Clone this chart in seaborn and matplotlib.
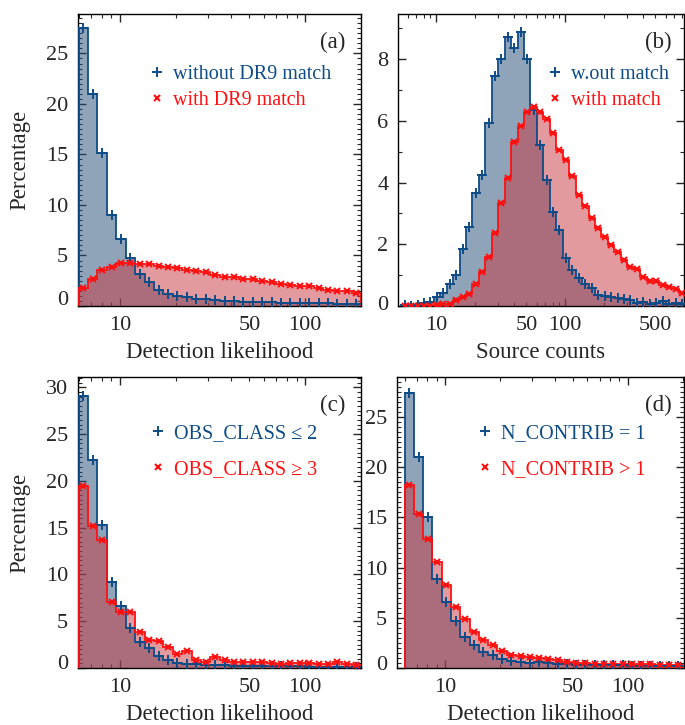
import numpy as np
import pandas as pd
import matplotlib
matplotlib.use("Agg")
import matplotlib.pyplot as plt
import matplotlib.transforms as mtransforms
import seaborn as sns
from matplotlib.lines import Line2D
from matplotlib.ticker import FixedLocator, MultipleLocator, FuncFormatter

# ---------------- data ----------------
# Detection-likelihood bins (log-spaced, 6 -> 200, 30 bins) used in panels a, c, d
DL_LOG_EDGES = np.linspace(np.log10(6), np.log10(200), 31)
# Source-count bins (0.05 dex) used in panel b
SC_LOG_EDGES = np.round(np.arange(0.73, 2.931, 0.05), 3)

a_without = [27.5, 21.0, 15.1, 9.0, 6.6, 4.75, 3.15, 2.4, 1.6, 1.15, 1.0, 0.9, 0.65, 0.7, 0.6,
             0.5, 0.45, 0.4, 0.4, 0.35, 0.35, 0.3, 0.3, 0.3, 0.25, 0.25, 0.25, 0.2, 0.2, 0.2]
a_with = [1.75, 2.65, 3.6, 3.9, 4.25, 4.3, 4.2, 4.2, 4.0, 3.9, 3.75, 3.6, 3.5, 3.35, 3.1,
          2.9, 2.9, 2.65, 2.65, 2.5, 2.4, 2.15, 2.05, 2.0, 1.95, 1.75, 1.6, 1.5, 1.45, 1.3]

b_without = [0.03, 0.01, 0.02, 0.11, 0.14, 0.30, 0.43, 0.71, 1.0, 1.86, 2.57, 3.65, 4.25, 5.92,
             7.46, 8.0, 8.73, 8.38, 8.89, 8.0, 6.35, 5.22, 4.08, 3.06, 2.46, 1.55, 1.17, 0.90,
             0.71, 0.57, 0.36, 0.32, 0.30, 0.25, 0.22, 0.19, 0.11, 0.14, 0.08, 0.11, 0.17, 0.08,
             0.11, 0.08]
b_with = [0.0, 0.0, 0.0, 0.0, 0.0, 0.02, 0.05, 0.08, 0.19, 0.28, 0.39, 0.71, 1.11, 1.58, 2.38,
          3.35, 4.14, 5.33, 5.83, 6.30, 6.46, 6.30, 6.05, 5.62, 5.06, 4.73, 4.21, 3.60, 3.24,
          2.84, 2.52, 2.25, 1.98, 1.76, 1.49, 1.27, 1.19, 0.95, 0.82, 0.82, 0.68, 0.63, 0.54,
          0.43]

c_low = [29.1, 22.2, 15.3, 9.2, 6.66, 4.27, 2.74, 2.14, 1.25, 0.89, 0.53, 0.46, 0.43, 0.36, 0.28,
         0.28, 0.25, 0.25, 0.22, 0.22, 0.2, 0.2, 0.18, 0.18, 0.15, 0.15, 0.15, 0.12, 0.12, 0.1]
c_high = [19.4, 15.2, 13.7, 7.05, 5.98, 5.98, 3.81, 2.96, 2.85, 2.24, 1.53, 1.78, 0.82, 0.68, 1.18,
          0.82, 0.68, 0.68, 0.6, 0.68, 0.53, 0.39, 0.53, 0.53, 0.53, 0.46, 0.46, 0.68, 0.46, 0.28]

d_one = [27.4, 21.0, 15.0, 8.89, 6.57, 4.64, 3.08, 2.32, 1.59, 1.26, 0.86, 0.73, 0.6, 0.53, 0.6,
         0.46, 0.43, 0.36, 0.33, 0.3, 0.3, 0.28, 0.26, 0.25, 0.23, 0.22, 0.21, 0.2, 0.2, 0.2]
d_many = [18.2, 15.3, 12.9, 10.6, 8.29, 6.07, 4.84, 3.58, 2.75, 2.32, 1.66, 1.33, 1.19, 1.06, 1.0,
          0.93, 0.76, 0.6, 0.53, 0.46, 0.43, 0.43, 0.43, 0.4, 0.43, 0.4, 0.36, 0.33, 0.33, 0.33]

labels_a = ["without DR9 match", "with DR9 match"]
labels_b = ["w.out match", "with match"]
labels_c = ["OBS_CLASS ≤ 2", "OBS_CLASS ≥ 3"]
labels_d = ["N_CONTRIB = 1", "N_CONTRIB > 1"]
xlab_dl = "Detection likelihood"
xlab_sc = "Source counts"
ylab = "Percentage"

# ---------------- style ----------------
sns.set_theme(style="ticks")
FS_TICK = 16
FS_LAB = 16.5
FS_LEG = 14.5
plt.rcParams.update({
    "font.family": ["Liberation Serif", "DejaVu Serif"],
    "font.size": FS_TICK,
    "axes.labelsize": FS_LAB,
    "xtick.labelsize": FS_TICK,
    "ytick.labelsize": FS_TICK,
    "xtick.direction": "in",
    "ytick.direction": "in",
    "xtick.top": True,
    "ytick.right": True,
    "xtick.major.size": 6,
    "ytick.major.size": 6,
    "xtick.minor.size": 3,
    "ytick.minor.size": 3,
    "xtick.major.width": 1.0,
    "ytick.major.width": 1.0,
    "xtick.minor.width": 0.8,
    "ytick.minor.width": 0.8,
    "axes.linewidth": 1.0,
    "axes.edgecolor": "black",
})

BLUE = "#0e4c88"
BLUE_FILL = "#28507a"
RED = "#ff1010"
RED_FILL = "#c83741"

W, H = 685, 725
fig = plt.figure(figsize=(W / 100, H / 100), dpi=100)


def ax_at(l, r, t, b):
    return fig.add_axes([l / W, 1 - b / H, (r - l) / W, (b - t) / H])


def draw(ax, log_edges, v1, v2):
    centers = 10 ** (0.5 * (log_edges[:-1] + log_edges[1:]))
    for vals, line_c, fill_c, alpha in ((v1, BLUE, BLUE_FILL, 0.52), (v2, RED, RED_FILL, 0.5)):
        df = pd.DataFrame({"x": centers, "w": vals})
        sns.histplot(data=df, x="x", weights="w", bins=list(log_edges), log_scale=True,
                     element="step", fill=True, color=fill_c, alpha=alpha,
                     linewidth=0, ax=ax, stat="count")
        ax.stairs(vals, 10 ** log_edges, color=line_c, linewidth=1.3, zorder=3)
    ax.plot(centers, v1, ls="none", marker="+", ms=7, mew=1.4, color=BLUE, zorder=5)
    ax.plot(centers, v2, ls="none", marker="x", ms=5, mew=1.5, color=RED, zorder=5)


def style_x(ax, xlim, labels_at):
    ax.set_xlim(*xlim)
    ax.xaxis.set_major_locator(FixedLocator([1, 10, 100, 1000]))
    minors = [m * 10 ** e for e in range(0, 3) for m in range(2, 10)]
    ax.xaxis.set_minor_locator(FixedLocator(minors))
    fmt = FuncFormatter(lambda v, p: (f"{v:g}" if any(abs(v - L) < 1e-6 for L in labels_at) else ""))
    ax.xaxis.set_major_formatter(fmt)
    ax.xaxis.set_minor_formatter(fmt)
    ax.tick_params(axis="x", which="both", pad=7.5)


def style_y(ax, ylim, major, minor):
    ax.set_ylim(*ylim)
    ax.yaxis.set_major_locator(MultipleLocator(major))
    ax.yaxis.set_minor_locator(MultipleLocator(minor))
    ax.set_ylabel("")
    ax.tick_params(axis="y", which="both", pad=7)


def legend(ax, labels, x0, y0, spacing):
    hs = [Line2D([], [], ls="none", marker="+", ms=7, mew=1.4, color=BLUE),
          Line2D([], [], ls="none", marker="x", ms=5, mew=1.5, color=RED)]
    leg = ax.legend(hs, labels, loc="upper left", bbox_to_anchor=(x0, y0),
                    frameon=False, handlelength=0.8, handletextpad=0.4,
                    borderpad=0, borderaxespad=0, labelspacing=spacing, fontsize=FS_LEG)
    for t, c in zip(leg.get_texts(), (BLUE, RED)):
        t.set_color(c)


axa = ax_at(78, 361, 14, 306)
axb = ax_at(398, 684, 14, 306)
axc = ax_at(78, 361, 377, 668)
axd = ax_at(397, 684, 377, 668)

draw(axa, DL_LOG_EDGES, a_without, a_with)
draw(axb, SC_LOG_EDGES, b_without, b_with)
draw(axc, DL_LOG_EDGES, c_low, c_high)
draw(axd, DL_LOG_EDGES, d_one, d_many)

style_x(axa, (5.95, 200), [10, 50, 100])
style_x(axb, (5.05, 832), [10, 50, 100, 500])
style_x(axc, (5.95, 200), [10, 50, 100])
style_x(axd, (5.45, 203), [10, 50, 100])

style_y(axa, (0, 28.9), 5, 0.5)
style_y(axb, (0, 9.47), 2, 1)
style_y(axc, (0, 31.1), 5, 0.5)
style_y(axd, (0, 29.0), 5, 0.5)

for ax, lab in ((axa, xlab_dl), (axb, xlab_sc), (axc, xlab_dl), (axd, xlab_dl)):
    ax.set_xlabel(lab, labelpad=5)
axa.set_ylabel(ylab, labelpad=11)
axc.set_ylabel(ylab, labelpad=11)

for ax, lab, x in ((axa, "(a)", 0.945), (axb, "(b)", 0.958), (axc, "(c)", 0.945), (axd, "(d)", 0.958)):
    ax.text(x, 0.903, lab, transform=ax.transAxes, ha="right", va="center", fontsize=FS_LAB)

legend(axa, labels_a, 0.251, 0.826, 0.37)
legend(axb, labels_b, 0.521, 0.826, 0.37)
legend(axc, labels_c, 0.254, 0.837, 0.82)
legend(axd, labels_d, 0.279, 0.837, 0.82)

# nudge the "0" tick label upward, as in the reference
fig.canvas.draw()
for ax, dy in ((axa, 8), (axb, 3), (axc, 6), (axd, 5)):
    for tick in ax.yaxis.get_major_ticks():
        if abs(tick.get_loc()) < 1e-9:
            off = mtransforms.ScaledTranslation(0, dy / 100, fig.dpi_scale_trans)
            tick.label1.set_transform(tick.label1.get_transform() + off)

fig.savefig("out.png", dpi=100)
